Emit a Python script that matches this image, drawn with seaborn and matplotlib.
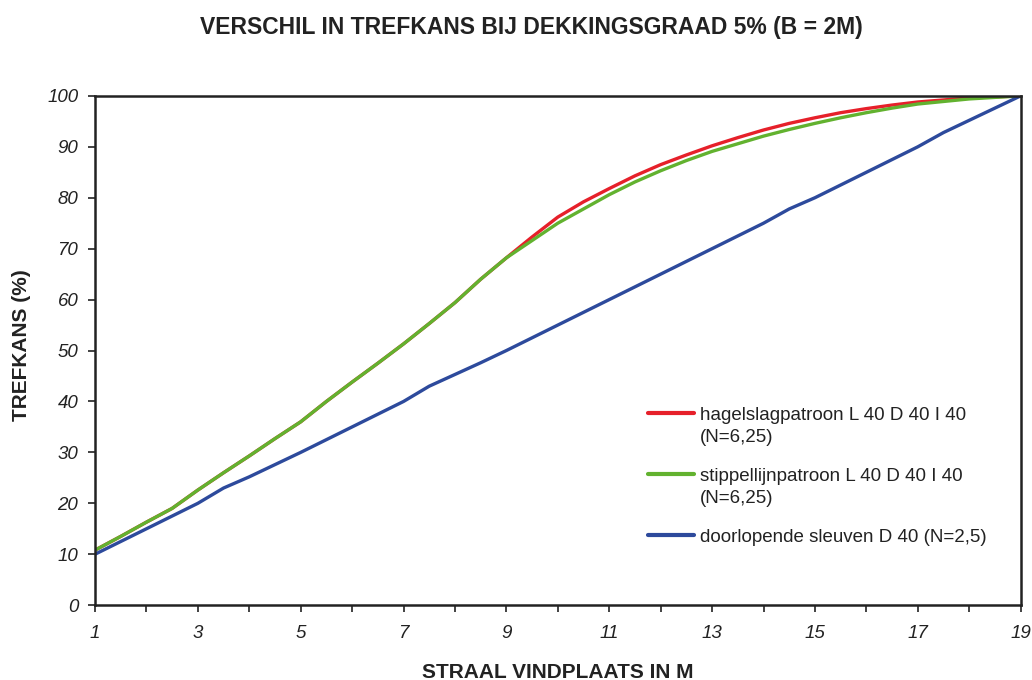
import numpy as np
import pandas as pd
import matplotlib
matplotlib.use("Agg")
import matplotlib.pyplot as plt
from matplotlib.legend_handler import HandlerLine2D
import seaborn as sns

x = [1, 1.5, 2, 2.5, 3, 3.5, 4, 4.5, 5, 5.5, 6, 6.5, 7, 7.5, 8, 8.5, 9, 9.5, 10,
     10.5, 11, 11.5, 12, 12.5, 13, 13.5, 14, 14.5, 15, 15.5, 16, 16.5, 17, 17.5, 18, 18.5, 19]
hagelslag = [10.8, 13.5, 16.3, 19.0, 22.6, 26.0, 29.3, 32.7, 36.0, 40.0, 43.8, 47.5, 51.3, 55.3,
             59.4, 64.0, 68.2, 72.3, 76.2, 79.2, 81.8, 84.3, 86.5, 88.4, 90.2, 91.8, 93.3, 94.6,
             95.7, 96.7, 97.5, 98.2, 98.8, 99.2, 99.6, 99.8, 100.0]
stippellijn = [10.8, 13.5, 16.3, 19.0, 22.6, 26.0, 29.3, 32.7, 36.0, 40.0, 43.8, 47.5, 51.3, 55.3,
               59.4, 64.0, 68.2, 71.6, 75.0, 77.8, 80.6, 83.1, 85.3, 87.3, 89.1, 90.6, 92.1, 93.4,
               94.6, 95.7, 96.7, 97.6, 98.4, 98.9, 99.4, 99.7, 100.0]
sleuven = [10.0, 12.5, 15.0, 17.5, 20.0, 23.0, 25.2, 27.6, 30.0, 32.5, 35.0, 37.5, 40.0, 43.0,
           45.3, 47.6, 50.0, 52.5, 55.0, 57.5, 60.0, 62.5, 65.0, 67.5, 70.0, 72.5, 75.0, 77.8,
           80.0, 82.5, 85.0, 87.5, 90.0, 92.8, 95.2, 97.6, 100.0]

labels = ["hagelslagpatroon L 40 D 40 I 40\n(N=6,25)",
          "stippellijnpatroon L 40 D 40 I 40\n(N=6,25)",
          "doorlopende sleuven D 40 (N=2,5)"]
colors = ["#E6202A", "#62B22F", "#2D4A9C"]

df = pd.concat([
    pd.DataFrame({"x": x, "y": hagelslag, "serie": labels[0]}),
    pd.DataFrame({"x": x, "y": stippellijn, "serie": labels[1]}),
    pd.DataFrame({"x": x, "y": sleuven, "serie": labels[2]}),
])

sns.set_theme(style="white")
plt.rcParams['font.family'] = ['Liberation Sans', 'DejaVu Sans']

fig = plt.figure(figsize=(10.32, 6.8), dpi=100)
ax = fig.add_axes([0.092, 0.110, 0.897, 0.749])

sns.lineplot(data=df, x="x", y="y", hue="serie", hue_order=labels,
             palette=colors, linewidth=2.4, ax=ax, sort=False)

ax.set_xlim(1, 19)
ax.set_ylim(0, 100)
ax.set_xticks(range(1, 20, 2))
ax.set_xticks(range(2, 19, 2), minor=True)
ax.set_yticks(range(0, 101, 10))
ax.tick_params(axis="both", which="both", direction="out", length=5, width=1.2,
               color="#222222", labelsize=13.5, labelcolor="#222222", bottom=True, left=True)
ax.tick_params(axis="x", pad=9)
ax.tick_params(axis="y", pad=7)
for lab in ax.get_xticklabels() + ax.get_yticklabels():
    lab.set_fontstyle("italic")

for side in ["left", "bottom", "top", "right"]:
    ax.spines[side].set_visible(True)
    ax.spines[side].set_color("#222222")
    ax.spines[side].set_linewidth(1.8)

ax.set_xlabel("STRAAL VINDPLAATS IN M", fontsize=15, fontweight="bold", color="#222222")
ax.xaxis.label.set_va("center")
ax.xaxis.set_label_coords(0.50, -0.132)
ax.set_ylabel("TREFKANS (%)", fontsize=15, fontweight="bold", color="#222222")
ax.yaxis.label.set_va("center")
ax.yaxis.set_label_coords(-0.079, 0.511)
fig.text(0.515, 0.959, "VERSCHIL IN TREFKANS BIJ DEKKINGSGRAAD 5% (B = 2M)", fontsize=16.5,
         fontweight="bold", ha="center", va="center", color="#222222")


class UpHandler(HandlerLine2D):
    def __init__(self, dy=0.0, **kw):
        super().__init__(**kw)
        self.dy = dy

    def create_artists(self, legend, orig_handle, xdescent, ydescent, width, height,
                       fontsize, trans):
        arts = super().create_artists(legend, orig_handle, xdescent, ydescent, width,
                                      height, fontsize, trans)
        for a in arts:
            a.set_ydata(np.asarray(a.get_ydata(), dtype=float) + self.dy)
        return arts


handles, _ = ax.get_legend_handles_labels()
if ax.get_legend():
    ax.get_legend().remove()
hmap = {handles[0]: UpHandler(9.5), handles[1]: UpHandler(9.5), handles[2]: UpHandler(0.0)}
leg = ax.legend(handles[:3], labels, handler_map=hmap, loc="upper left",
                bbox_to_anchor=(0.597, 0.389), frameon=False, borderpad=0, borderaxespad=0,
                fontsize=13.5, handlelength=2.5, handletextpad=0.3, labelspacing=1.15)
for line in leg.get_lines():
    line.set_linewidth(3)
for t in leg.get_texts():
    t.set_color("#222222")
    t.set_linespacing(1.4)

fig.savefig("out.png", dpi=100)
